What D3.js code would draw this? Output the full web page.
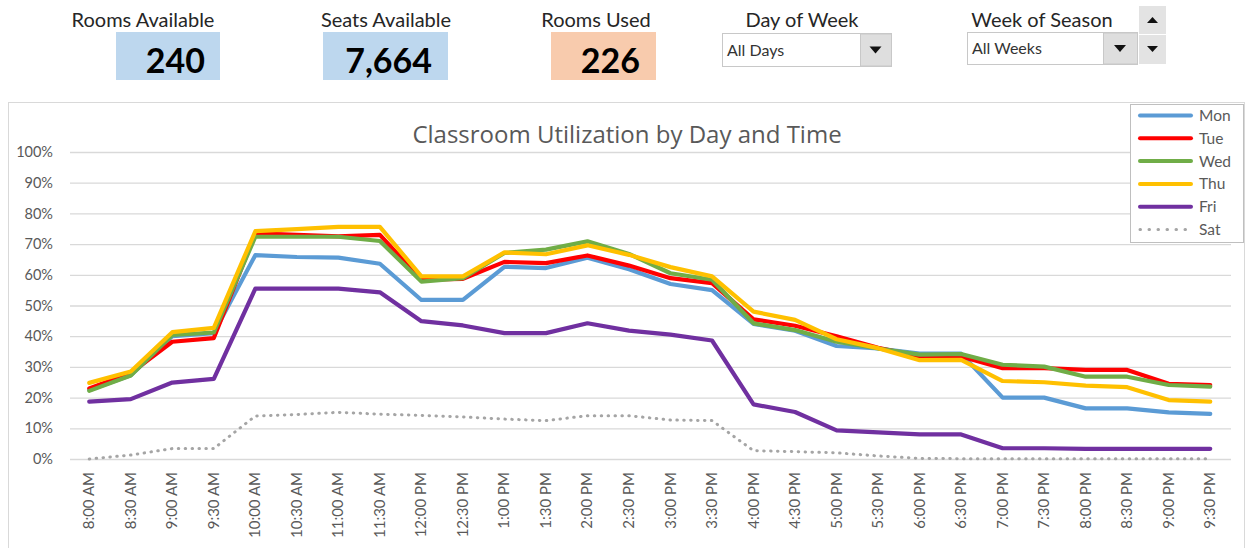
<!DOCTYPE html>
<html>
<head>
<meta charset="utf-8">
<script src="https://cdn.jsdelivr.net/npm/d3@7"></script>
<style>
  html, body { margin: 0; padding: 0; background: #ffffff; }
  svg { display: block; font-family: Lato, "Open Sans", sans-serif; }
</style>
</head>
<body>
<svg id="chart" width="1246" height="548"></svg>
<script>
// Half-hour time slots
const times = ["8:00 AM","8:30 AM","9:00 AM","9:30 AM","10:00 AM","10:30 AM","11:00 AM","11:30 AM",
  "12:00 PM","12:30 PM","1:00 PM","1:30 PM","2:00 PM","2:30 PM","3:00 PM","3:30 PM",
  "4:00 PM","4:30 PM","5:00 PM","5:30 PM","6:00 PM","6:30 PM","7:00 PM","7:30 PM",
  "8:00 PM","8:30 PM","9:00 PM","9:30 PM"];

// Utilization (%) per weekday
const mon = [22.5,27.3,40.0,41.0,66.4,65.8,65.6,63.6,51.8,51.8,62.6,62.2,65.6,61.8,57.0,55.0,44.0,41.8,36.8,36.0,34.3,34.3,20.0,20.0,16.5,16.5,15.2,14.7];
const tue = [23.0,28.0,38.2,39.4,73.5,73.0,72.5,73.0,58.4,58.7,64.2,63.8,66.3,63.0,58.9,57.3,45.5,43.4,40.0,36.2,33.4,33.4,29.6,29.6,29.0,29.0,24.5,24.1];
const wed = [22.2,27.2,40.4,41.2,72.4,72.4,72.4,71.0,57.8,58.9,67.1,68.2,70.9,66.8,60.5,58.4,44.2,42.0,38.2,36.0,34.0,34.2,30.7,30.1,26.8,26.8,24.1,23.6];
const thu = [24.8,28.5,41.3,42.7,74.2,74.9,75.6,75.6,59.5,59.5,67.3,66.7,69.6,66.5,62.5,59.5,48.0,45.3,39.0,36.1,32.2,32.3,25.4,25.0,23.9,23.4,19.2,18.7];
const fri = [18.7,19.5,24.9,26.1,55.5,55.5,55.5,54.3,44.9,43.5,41.0,41.0,44.2,41.8,40.5,38.6,17.8,15.3,9.3,8.7,8.0,8.0,3.5,3.5,3.3,3.3,3.3,3.3];
const sat = [0.0,1.3,3.4,3.4,14.0,14.5,15.2,14.6,14.2,13.7,13.0,12.5,14.1,14.1,12.7,12.5,2.7,2.4,2.0,1.0,0.2,0.1,0.1,0.1,0.1,0.1,0.1,0.1];

const dayNames = ["Mon","Tue","Wed","Thu","Fri","Sat"];
const yTicks = [0,10,20,30,40,50,60,70,80,90,100];

// Summary cards
const cardLabels = ["Rooms Available","Seats Available","Rooms Used"];
const cardValues = ["240","7,664","226"];

// Slicer controls
const filterLabels = ["Day of Week","Week of Season"];
const filterValues = ["All Days","All Weeks"];

const series = [
  {name: dayNames[0], values: mon, color: "#5B9BD5", dotted: false},
  {name: dayNames[1], values: tue, color: "#FF0000", dotted: false},
  {name: dayNames[2], values: wed, color: "#70AD47", dotted: false},
  {name: dayNames[3], values: thu, color: "#FFC000", dotted: false},
  {name: dayNames[4], values: fri, color: "#7030A0", dotted: false},
  {name: dayNames[5], values: sat, color: "#A5A5A5", dotted: true}
];

const svg = d3.select("#chart");
const textColor = "#595959";

// ---------- header: summary cards ----------
const cards = [
  {cx: 143, box: [116, 32, 104, 48], fill: "#BDD7EE", vx: 205},
  {cx: 386, box: [323, 32, 125, 48], fill: "#BDD7EE", vx: 432},
  {cx: 596, box: [551, 32, 105, 48], fill: "#F8CBAD", vx: 640}
];
cards.forEach((c, i) => {
  svg.append("text").attr("x", c.cx).attr("y", 27)
    .attr("text-anchor", "middle").attr("font-size", 20).attr("fill", "#262626")
    .text(cardLabels[i]);
  svg.append("rect").attr("x", c.box[0]).attr("y", c.box[1])
    .attr("width", c.box[2]).attr("height", c.box[3]).attr("fill", c.fill);
  svg.append("text").attr("x", c.vx).attr("y", 73)
    .attr("text-anchor", "end").attr("font-size", 34).attr("font-weight", "bold")
    .attr("fill", "#000").text(cardValues[i]);
});

// ---------- header: dropdown slicers ----------
const drops = [
  {cx: 802, x: 722, y: 33, w: 169, h: 33, bw: 31},
  {cx: 1042, x: 967, y: 32, w: 170, h: 32, bw: 34}
];
drops.forEach((d, i) => {
  svg.append("text").attr("x", d.cx).attr("y", 27)
    .attr("text-anchor", "middle").attr("font-size", 20).attr("fill", "#262626")
    .text(filterLabels[i]);
  svg.append("rect").attr("x", d.x + 0.5).attr("y", d.y + 0.5)
    .attr("width", d.w).attr("height", d.h)
    .attr("fill", "#fff").attr("stroke", "#c8c8c8");
  svg.append("rect").attr("x", d.x + d.w - d.bw + 0.5).attr("y", d.y + 1)
    .attr("width", d.bw).attr("height", d.h - 1).attr("fill", "#dedede")
    .attr("stroke", "#c8c8c8");
  svg.append("text").attr("x", d.x + 5).attr("y", d.y + d.h / 2 + 6)
    .attr("font-size", 16).attr("fill", "#333").text(filterValues[i]);
  const ax = d.x + d.w - d.bw / 2, ay = d.y + d.h / 2;
  svg.append("path").attr("d", `M${ax - 6},${ay - 3}L${ax + 6},${ay - 3}L${ax},${ay + 4}Z`).attr("fill", "#111");
});

// spin buttons
svg.append("rect").attr("x", 1139).attr("y", 6).attr("width", 27).attr("height", 28).attr("fill", "#e3e3e3");
svg.append("rect").attr("x", 1139).attr("y", 35).attr("width", 27).attr("height", 29).attr("fill", "#e3e3e3");
svg.append("path").attr("d", "M1147,23L1158,23L1152.5,17Z").attr("fill", "#111");
svg.append("path").attr("d", "M1147,46L1158,46L1152.5,52Z").attr("fill", "#111");

// ---------- chart frame ----------
svg.append("rect").attr("x", 8.5).attr("y", 102.5).attr("width", 1236).attr("height", 460)
  .attr("fill", "#fff").attr("stroke", "#d9d9d9");

svg.append("text").attr("x", 627).attr("y", 143)
  .attr("text-anchor", "middle").attr("font-size", 24).attr("fill", textColor)
  .attr("font-family", "'Open Sans', sans-serif")
  .text("Classroom Utilization by Day and Time");

// ---------- scales ----------
const x = d3.scaleBand().domain(times).range([68.5, 1231]);
const y = d3.scaleLinear().domain([0, 100]).range([459, 152]);

// gridlines + y labels
const yAxis = d3.axisLeft(y).tickValues(yTicks)
  .tickSize(-(1231 - 70)).tickFormat(d => d + "%").tickPadding(17);
const gy = svg.append("g").attr("transform", "translate(70,0)").call(yAxis);
gy.select(".domain").remove();
gy.selectAll(".tick line").attr("stroke", "#d9d9d9").attr("stroke-width", 1.3);
gy.selectAll(".tick text").attr("fill", textColor).attr("font-size", 14.5)
  .attr("font-family", "Lato, sans-serif");

// x labels, rotated
const xAxis = d3.axisBottom(x).tickSize(0).tickPadding(0);
const gx = svg.append("g").attr("transform", "translate(0,459)").call(xAxis);
gx.select(".domain").remove();
gx.selectAll(".tick text")
  .attr("fill", textColor).attr("font-size", 15).attr("font-family", "Lato, sans-serif")
  .attr("text-anchor", "end").attr("dy", null).attr("y", 0).attr("x", 0)
  .attr("transform", "translate(5,13) rotate(-90)");

// ---------- lines ----------
const line = d3.line()
  .x((d, i) => x(times[i]) + x.bandwidth() / 2)
  .y(d => y(d));

series.forEach(s => {
  const p = svg.append("path").datum(s.values)
    .attr("d", line).attr("fill", "none").attr("stroke", s.color)
    .attr("stroke-linejoin", "round");
  if (s.dotted) {
    p.attr("stroke-width", 3).attr("stroke-dasharray", "0.5 6.4").attr("stroke-linecap", "round");
  } else {
    p.attr("stroke-width", 4.2).attr("stroke-linecap", "round");
  }
});

// ---------- legend ----------
const lg = svg.append("g");
lg.append("rect").attr("x", 1130.5).attr("y", 104.5).attr("width", 113).attr("height", 138)
  .attr("fill", "#fff").attr("stroke", "#bfbfbf");
series.forEach((s, i) => {
  const ly = 115.5 + i * 22.8;
  const l = lg.append("line").attr("x1", 1140).attr("x2", 1191).attr("y1", ly).attr("y2", ly)
    .attr("stroke", s.color);
  if (s.dotted) {
    l.attr("stroke-width", 3).attr("stroke-dasharray", "0.5 8.5").attr("stroke-linecap", "round");
  } else {
    l.attr("stroke-width", 4).attr("stroke-linecap", "round");
  }
  lg.append("text").attr("x", 1199).attr("y", ly + 5.5)
    .attr("font-size", 15.5).attr("fill", textColor).text(s.name);
});
</script>
</body>
</html>
